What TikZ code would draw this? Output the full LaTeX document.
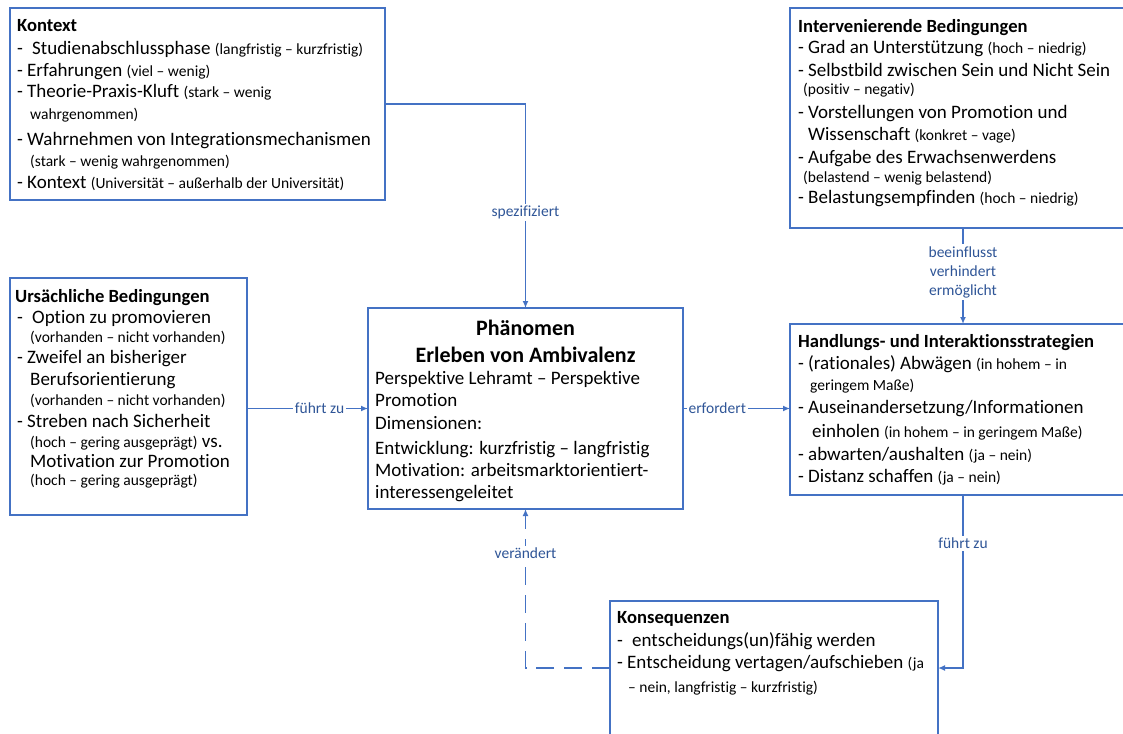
\documentclass[tikz,border=0pt]{standalone}
\usepackage{fontspec}
\setmainfont{Carlito}[Ligatures=NoCommon]
\usetikzlibrary{arrows.meta}
\definecolor{lineblue}{RGB}{68,114,196}
\definecolor{labelblue}{RGB}{47,85,151}
\newcommand\smtxt[1]{{\fontsize{15.5}{18}\selectfont #1}}
\newcommand\itm{\makebox[10pt][l]{-}}
\newcommand\itmw{\makebox[15pt][l]{-}}
\begin{document}
\begin{tikzpicture}[x=1pt,y=-1pt,
  box/.style={draw=lineblue, line width=1.2pt, fill=white, anchor=north west,
              inner sep=0pt, outer sep=0pt},
  ln/.style={anchor=base west, inner sep=0pt, font=\fontsize{19}{22}\selectfont},
  hd/.style={anchor=base west, inner sep=0pt, font=\fontsize{18.6}{22}\selectfont\bfseries},
  ttl/.style={anchor=base, inner sep=0pt, font=\fontsize{22}{26}\selectfont\bfseries},
  conn/.style={draw=lineblue, line width=1.4pt, -{Latex[length=7pt,width=6pt]}},
  lbl/.style={fill=white, text=labelblue, font=\fontsize{15.5}{19}\selectfont,
              inner sep=2pt, align=center}]
\useasboundingbox (0,0) rectangle (1123,733);

% boxes
\node[box, minimum width=375pt, minimum height=192pt] (kontext) at (10,8) {};
\node[box, minimum width=346pt, minimum height=220pt] (interv) at (790,8) {};
\node[box, minimum width=237pt, minimum height=237pt] (urs) at (10,278) {};
\node[box, line width=2.2pt, minimum width=315pt, minimum height=201pt] (phaen) at (368,308) {};
\node[box, minimum width=346pt, minimum height=171pt] (handl) at (790,324) {};
\node[box, minimum width=328pt, minimum height=134pt] (konseq) at (610,601) {};

% Kontext
\node[hd] (kh) at (17,32) {Kontext};
\foreach \x/\y/\t [count=\i] in {
  17/55/{\itmw Studienabschlussphase \smtxt{(langfristig – kurzfristig)}},
  17/77/{\itm Erfahrungen \smtxt{(viel – wenig)}},
  17/98/{\itm Theorie-Praxis-Kluft \smtxt{(stark – wenig}},
  30/120/{\smtxt{wahrgenommen)}},
  17/145/{\itm Wahrnehmen von Integrationsmechanismen},
  30/166/{\smtxt{(stark – wenig wahrgenommen)}},
  17/188/{\itm Kontext \smtxt{(Universität – außerhalb der Universität)}}}
  {\node[ln] (kt\i) at (\x,\y) {\t};}

% Intervenierende Bedingungen
\node[hd] (ih) at (798,33) {Intervenierende Bedingungen};
\foreach \x/\y/\t [count=\i] in {
  798/54/{\itm Grad an Unterstützung \smtxt{(hoch – niedrig)}},
  798/77/{\itm Selbstbild zwischen Sein und Nicht Sein},
  803/95/{\smtxt{(positiv – negativ)}},
  798/118/{\itm Vorstellungen von Promotion und},
  808/140/{Wissenschaft \smtxt{(konkret – vage)}},
  798/163/{\itm Aufgabe des Erwachsenwerdens},
  803/182/{\smtxt{(belastend – wenig belastend)}},
  798/203/{\itm Belastungsempfinden \smtxt{(hoch – niedrig)}}}
  {\node[ln] (it\i) at (\x,\y) {\t};}

% Ursaechliche Bedingungen
\node[hd] (uh) at (15,302) {Ursächliche Bedingungen};
\foreach \x/\y/\t [count=\i] in {
  17/323/{\itmw Option zu promovieren},
  30/342/{\smtxt{(vorhanden – nicht vorhanden)}},
  17/363/{\itm Zweifel an bisheriger},
  30/385/{Berufsorientierung},
  30/405/{\smtxt{(vorhanden – nicht vorhanden)}},
  17/427/{\itm Streben nach Sicherheit},
  30/447/{\smtxt{(hoch – gering ausgeprägt)} vs.},
  30/467/{Motivation zur Promotion},
  30/485/{\smtxt{(hoch – gering ausgeprägt)}}}
  {\node[ln] (ut\i) at (\x,\y) {\t};}

% Phaenomen
\node[ttl] (pt1) at (525.5,335) {Phänomen};
\node[ttl] (pt2) at (525.5,362) {Erleben von Ambivalenz};
\foreach \y/\t [count=\i] in {
  384/{Perspektive Lehramt – Perspektive},
  406/{Promotion},
  429/{Dimensionen:},
  454/{Entwicklung: kurzfristig – langfristig},
  476/{Motivation: arbeitsmarktorientiert-},
  498/{interessengeleitet}}
  {\node[ln] (pl\i) at (375,\y) {\t};}

% Handlungs- und Interaktionsstrategien
\node[hd] (hh) at (798,347) {Handlungs- und Interaktionsstrategien};
\foreach \x/\y/\t [count=\i] in {
  798/369/{\itm (rationales) Abwägen \smtxt{(in hohem – in}},
  810/390/{\smtxt{geringem Maße)}},
  798/413/{\itm Auseinandersetzung/Informationen},
  812/437/{einholen \smtxt{(in hohem – in geringem Maße)}},
  798/460/{\itm abwarten/aushalten \smtxt{(ja – nein)}},
  798/482/{\itm Distanz schaffen \smtxt{(ja – nein)}}}
  {\node[ln] (ht\i) at (\x,\y) {\t};}

% Konsequenzen
\node[hd] (ch) at (617,623) {Konsequenzen};
\foreach \x/\y/\t [count=\i] in {
  617/646/{\itmw entscheidungs(un)fähig werden},
  617/668/{\itm Entscheidung vertagen/aufschieben \smtxt{(ja}},
  628/692/{\smtxt{– nein, langfristig – kurzfristig)}}}
  {\node[ln] (ct\i) at (\x,\y) {\t};}

% connectors
\draw[conn] (kontext.east) -| node[lbl, pos=0.765] {spezifiziert} (phaen.north);
\draw[conn] (urs.east |- phaen.west) -- node[lbl, pos=0.6] {führt zu} (phaen.west);
\draw[conn] (phaen.east) -- node[lbl, pos=0.32] {erfordert} (phaen.east -| handl.west);
\draw[conn] (interv.south) -- node[lbl, pos=0.46] {beeinflusst\\verhindert\\ermöglicht} (handl.north);
\draw[conn] (handl.south) |- node[lbl, pos=0.139] {führt zu} (konseq.east);
\draw[conn, dash pattern=on 18pt off 10pt] (konseq.west) -| node[lbl, pos=0.86] {verändert} (phaen.south);
\end{tikzpicture}
\end{document}
